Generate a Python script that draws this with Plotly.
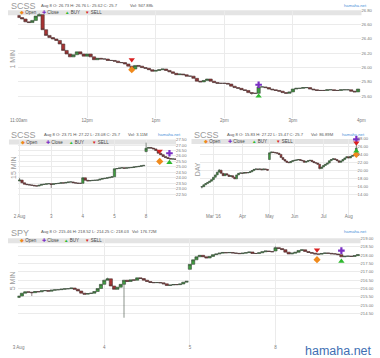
import plotly.graph_objects as go

W, H = 380, 358
FONT = "Liberation Sans"

# ---------------- DATA ----------------
# Panel 1: SCSS 1 MIN (bar index, 3-minute steps from 11:00am)
p1_first_open = 26.73
p1_close = [26.70, 26.68, 26.64, 26.63, 26.66, 26.72, 26.74, 26.53, 26.45, 26.42,
            26.40, 26.38, 26.33, 26.24, 26.19, 26.15, 26.18, 26.22, 26.19, 26.16,
            26.19, 26.15, 26.11, 26.13, 26.12, 26.12, 26.10, 26.10, 26.09, 26.07,
            26.07, 26.05, 26.02, 25.98, 26.03, 26.02, 26.00, 25.99, 25.97, 25.95,
            25.96, 25.97, 25.98, 25.96, 25.94, 25.92, 25.90, 25.91, 25.90, 25.88,
            25.88, 25.85, 25.81, 25.80, 25.82, 25.84, 25.81, 25.79, 25.78, 25.78,
            25.78, 25.77, 25.74, 25.72, 25.71, 25.69, 25.68, 25.65, 25.64, 25.64,
            25.73, 25.73, 25.72, 25.70, 25.69, 25.68, 25.67, 25.65, 25.64, 25.66,
            25.70, 25.71, 25.71, 25.72, 25.72, 25.70, 25.69, 25.68, 25.68, 25.68,
            25.69, 25.69, 25.68, 25.68, 25.69, 25.69, 25.69, 25.67, 25.66, 25.70]
p1_open_over = {}
p1_high_over = {6: 26.76}
p1_low_over = {68: 25.62}
p1_tickvals = [0, 20, 40, 60, 80, 100]
p1_ticktext = ["11:00am", "12pm", "1pm", "2pm", "3pm", "4pm"]
p1_yticks = [25.60, 25.80, 26.00, 26.20, 26.40, 26.60, 26.80]
p1_sig_open = ([33], [25.97])
p1_sig_close = ([70], [25.76])
p1_sig_buy = ([70], [25.60])
p1_sig_sell = ([33], [26.11])

# Panel 2: SCSS 15 MIN (bar index, 13 bars per day)
p2_first_open = 23.71
p2_close = [23.80, 23.55, 23.42, 23.38, 23.35, 23.32, 23.27, 23.25, 23.32, 23.40, 23.41, 23.45, 23.47,
            23.40, 23.46, 23.48, 23.50, 23.55, 23.52, 23.58, 23.62, 23.63, 23.56, 23.52, 23.50, 23.50,
            24.00, 23.78, 23.72, 23.75, 23.77, 23.78, 23.80, 23.88, 23.93, 23.96, 24.00, 24.05, 24.10,
            24.83, 24.85, 24.90, 24.92, 24.87, 24.92, 24.93, 24.95, 25.00, 25.02, 25.05, 25.10, 25.14,
            26.70, 26.78, 26.72, 26.65, 26.50, 26.25, 26.12, 25.95, 25.85, 25.77, 25.72, 25.73, 25.70]
p2_open_over = {52: 26.40}
p2_high_over = {0: 24.00, 26: 24.05, 52: 27.22}
p2_low_over = {13: 23.08, 52: 26.35}
p2_tickvals = [0, 13, 26, 39, 52]
p2_ticktext = ["2 Aug", "3", "4", "5", "8"]
p2_yticks = [22.5, 23.0, 23.5, 24.0, 24.5, 25.0, 25.5, 26.0, 26.5, 27.0, 27.5]
p2_sig_open = ([57.6], [25.50])
p2_sig_close = ([61.6], [26.25])
p2_sig_buy = ([61.6], [25.40])
p2_sig_sell = ([57.6], [26.45])

# Panel 3: SCSS DAY
p3_first_open = 15.83
p3_close = [15.9, 16.4, 16.7, 17.0, 17.3, 17.7, 18.3, 18.9, 19.6, 20.1,
            19.3, 18.7, 19.2, 18.9, 18.5, 18.7, 18.3, 17.9, 18.9, 19.3,
            19.4, 19.3, 19.5, 19.4, 19.5, 19.7, 20.0, 20.3, 20.4, 20.3,
            20.4, 20.2, 20.4, 20.3, 20.1, 24.5, 24.7, 24.6, 24.5, 24.4,
            24.1, 23.3, 22.8, 22.4, 22.1, 22.0, 22.3, 22.5, 22.6, 22.7,
            22.8, 22.6, 22.5, 22.1, 22.3, 22.5, 22.6, 22.3, 22.0, 21.9,
            21.6, 20.5, 20.9, 21.3, 21.6, 21.9, 22.5, 22.8, 23.0, 22.8,
            22.5, 22.1, 22.4, 22.8, 23.2, 23.5, 23.2, 23.6, 23.8, 23.9,
            25.7]
p3_open_over = {35: 22.8, 80: 24.0}
p3_high_over = {9: 20.4, 80: 27.22}
p3_low_over = {0: 15.47, 61: 20.3, 80: 23.9}
p3_tickvals = [6, 21, 35, 48, 63, 76]
p3_ticktext = ["Mar '16", "Apr", "May", "Jun", "Jul", "Aug"]
p3_yticks = [14, 16, 18, 20, 22, 24, 26, 28]
p3_sig_open = ([80], [24.1])
p3_sig_close = ([80], [27.9])
p3_sig_buy = ([80], [24.9])
p3_sig_sell = ([80], [27.0])

# Panel 4: SPY 5 MIN (bar index, 26 bars per day)
p4_first_open = 215.46
p4_close = [215.55, 215.72, 215.80, 215.78, 215.75, 215.82, 215.80, 215.86, 215.88, 215.84, 215.90, 215.92, 215.93,
            215.96, 215.98, 215.99, 216.03, 215.95, 215.85, 215.72, 215.66, 215.70, 215.72, 215.82, 216.00, 216.25,
            216.50, 216.58, 216.15, 215.95, 216.08, 216.25, 216.50, 216.42, 216.52, 216.50, 216.64, 216.60, 216.50,
            216.42, 216.36, 216.35, 216.36, 216.34, 216.28, 216.18, 216.21, 216.24, 216.23, 216.27, 216.38, 216.43,
            217.45, 217.72, 217.90, 217.99, 217.90, 217.83, 217.92, 218.03, 218.07, 218.12, 218.16, 218.14, 218.16,
            218.13, 218.11, 218.09, 218.12, 218.15, 218.19, 218.10, 218.10, 218.14, 218.20, 218.25, 218.22, 218.20,
            218.45, 218.40, 218.33, 218.18, 218.07, 218.12, 218.17, 218.28, 218.32, 218.22, 218.16, 218.12, 218.07,
            218.06, 218.10, 218.13, 218.11, 218.08, 218.07, 218.03, 217.90, 217.93, 217.94, 217.92, 217.97, 218.03]
p4_open_over = {52: 217.15, 78: 218.25}
p4_high_over = {27: 216.65, 78: 218.52}
p4_low_over = {4: 215.55, 32: 214.25}
p4_tickvals = [0, 26, 52, 78]
p4_ticktext = ["3 Aug", "4", "5", "8"]
p4_yticks = [214.5, 215.0, 215.5, 216.0, 216.5, 217.0, 217.5, 218.0, 218.5, 219.0]
p4_sig_open = ([90.6], [217.73])
p4_sig_close = ([98.0], [218.27])
p4_sig_buy = ([98.0], [217.63])
p4_sig_sell = ([90.6], [218.31])

titles = ["SCSS", "SCSS", "SCSS", "SPY"]
intervals = ["1 MIN", "15 MIN", "DAY", "5 MIN"]
headers = ["Aug 8 O: 26.73 H: 26.76 L: 25.62 C: 25.7",
           "Aug 8 O: 23.71 H: 27.22 L: 23.08 C: 25.7",
           "Aug 8 O: 15.83 H: 27.22 L: 15.47 C: 25.7",
           "Aug 8 O: 215.46 H: 218.52 L: 214.25 C: 218.03"]
volumes = ["Vol: 947.88k", "Vol: 3.11M", "Vol: 86.89M", "Vol: 176.72M"]

# ---------------- STYLE / LAYOUT ----------------
GREEN_FILL, RED_FILL = "#3f9f3f", "#a83232"
CANDLE_LINE_UP, CANDLE_LINE_DN = "#3d4a3d", "#4a3535"
C_OPEN, C_CLOSE, C_BUY, C_SELL = "#f08a1c", "#7a2fc4", "#2eb82e", "#d92020"
GRID = "#ebebeb"
TICKC = "#777777"

# pixel boxes: left, right, top, bottom
boxes = [(10, 366, 8.3, 117), (10, 174, 138.3, 214), (199, 362, 137.7, 214), (10, 365, 237.7, 345)]
xranges = [[-0.282, 100.0], [-0.794, 64.31], [-0.85, 80.65], [-0.293, 103.81]]
yranges = [[25.29, 26.802], [20.62, 27.505], [8.78, 28.02], [212.61, 219.005]]

panels = [
    (p1_first_open, p1_close, p1_open_over, p1_high_over, p1_low_over, p1_tickvals, p1_ticktext, p1_yticks,
     p1_sig_open, p1_sig_close, p1_sig_buy, p1_sig_sell),
    (p2_first_open, p2_close, p2_open_over, p2_high_over, p2_low_over, p2_tickvals, p2_ticktext, p2_yticks,
     p2_sig_open, p2_sig_close, p2_sig_buy, p2_sig_sell),
    (p3_first_open, p3_close, p3_open_over, p3_high_over, p3_low_over, p3_tickvals, p3_ticktext, p3_yticks,
     p3_sig_open, p3_sig_close, p3_sig_buy, p3_sig_sell),
    (p4_first_open, p4_close, p4_open_over, p4_high_over, p4_low_over, p4_tickvals, p4_ticktext, p4_yticks,
     p4_sig_open, p4_sig_close, p4_sig_buy, p4_sig_sell),
]

fig = go.Figure()
layout = dict(width=W, height=H, margin=dict(l=0, r=0, t=0, b=0),
              paper_bgcolor="white", plot_bgcolor="rgba(0,0,0,0)", showlegend=False,
              font=dict(family=FONT), boxgap=0.05, boxgroupgap=0)
shapes, annotations = [], []


def ann(text, x, y, size, color, xanchor="left", yanchor="middle", angle=0):
    return dict(text=text, x=x / W, y=1 - y / H, xref="paper", yref="paper", showarrow=False,
                font=dict(size=size, color=color, family=FONT), xanchor=xanchor, yanchor=yanchor,
                textangle=angle, borderpad=0)


legend_offsets = [(13, 36, 60, 81), (14, 40, 64, 88), (204, 229, 254, 278), (13, 36, 59, 81)]
band_left = [0, 1, 190, 0]
title_y = [4.3, 133.5, 133.5, 232.5]
header_y = [4, 133, 133, 231]
header_x = [33, 36, 226, 33]
vol_x = [125, 123, 313, 127]
brand_x = [373, 180, 371, 373]
interval_pos = [(5, 57), (5, 166), (196, 168), (5, 280)]

for k, (fo, cl, oo, ho, lo, tv, tt, yt, so, sc, sb, ss) in enumerate(panels):
    n = "" if k == 0 else str(k + 1)
    xa, ya = "x" + n, "y" + n
    l, r, t, b = boxes[k]
    opens = [fo] + cl[:-1]
    for i, v in oo.items():
        opens[i] = v
    highs = [max(o, c) for o, c in zip(opens, cl)]
    lows = [min(o, c) for o, c in zip(opens, cl)]
    for i, v in ho.items():
        highs[i] = v
    for i, v in lo.items():
        lows[i] = v
    xs = list(range(len(cl)))
    fig.add_trace(go.Candlestick(
        x=xs, open=opens, high=highs, low=lows, close=cl, xaxis=xa, yaxis=ya,
        increasing=dict(fillcolor=GREEN_FILL, line=dict(color=CANDLE_LINE_UP, width=0.6)),
        decreasing=dict(fillcolor=RED_FILL, line=dict(color=CANDLE_LINE_DN, width=0.6)),
        whiskerwidth=0, hoverinfo="skip", showlegend=False))
    for (sx, sy), sym, col in [(so, "diamond", C_OPEN), (sc, "cross", C_CLOSE),
                               (sb, "triangle-up", C_BUY), (ss, "triangle-down", C_SELL)]:
        fig.add_trace(go.Scatter(x=sx, y=sy, mode="markers", xaxis=xa, yaxis=ya, cliponaxis=False,
                                 marker=dict(symbol=sym, size=5.5, color=col, line=dict(width=0)),
                                 hoverinfo="skip", showlegend=False))
    xkey = "xaxis" + n
    ykey = "yaxis" + n
    layout[xkey] = dict(domain=[l / W, r / W], range=xranges[k], anchor=ya,
                        tickvals=tv, ticktext=tt, showgrid=True, gridcolor=GRID, gridwidth=1,
                        zeroline=False, showline=False, ticks="", rangeslider=dict(visible=False),
                        ticklabelstandoff=-2,
                        tickfont=dict(size=4.5, color=TICKC, family=FONT), fixedrange=True)
    layout[ykey] = dict(domain=[1 - b / H, 1 - t / H], range=yranges[k], anchor=xa, side="right",
                        tickvals=yt, tickformat=".2f", showgrid=True, gridcolor=GRID, gridwidth=1,
                        zeroline=False, showline=False, ticks="", ticklabelstandoff=-1,
                        tickfont=dict(size=4.2, color=TICKC, family=FONT), fixedrange=True)
    # legend band
    shapes.append(dict(type="rect", xref="paper", yref="paper",
                       x0=band_left[k] / W, x1=r / W, y0=1 - (t + 5) / H, y1=1 - t / H,
                       fillcolor="#e4e4e4", line=dict(width=0), layer="below"))
    # legend entries
    lo_ = legend_offsets[k]
    ly = t + 2.5
    for gx, glyph, col, label in [(lo_[0], "◆", C_OPEN, "Open"), (lo_[1], "✚", C_CLOSE, "Close"),
                                  (lo_[2], "▲", C_BUY, "BUY"), (lo_[3], "▼", C_SELL, "SELL")]:
        annotations.append(ann(f"<span style='color:{col}'>{glyph}</span> {label}", gx - 2, ly, 4.5, "#444"))
    # titles and texts
    left_title = 2 if k != 2 else 192
    annotations.append(ann(titles[k], left_title, title_y[k], 9, "#9a9a9a"))
    hy = header_y[k]
    annotations.append(ann(headers[k], header_x[k], hy, 4.2, "#555"))
    annotations.append(ann(volumes[k], vol_x[k], hy, 4.2, "#555"))
    annotations.append(ann("hamaha.net", brand_x[k], hy, 4.2, "#4a90d9", xanchor="right"))
    ix, iy = interval_pos[k]
    annotations.append(ann(intervals[k], ix, iy, 7, "#9a9a9a", xanchor="center", yanchor="middle", angle=-90))

annotations.append(ann("hamaha.net", 378, 351, 12.5, "#3f6fb3", xanchor="right"))

layout["shapes"] = shapes
layout["annotations"] = annotations
fig.update_layout(**layout)
fig.write_html("out.html", config={"displayModeBar": False},
               post_script="document.body.style.margin='0px';")
